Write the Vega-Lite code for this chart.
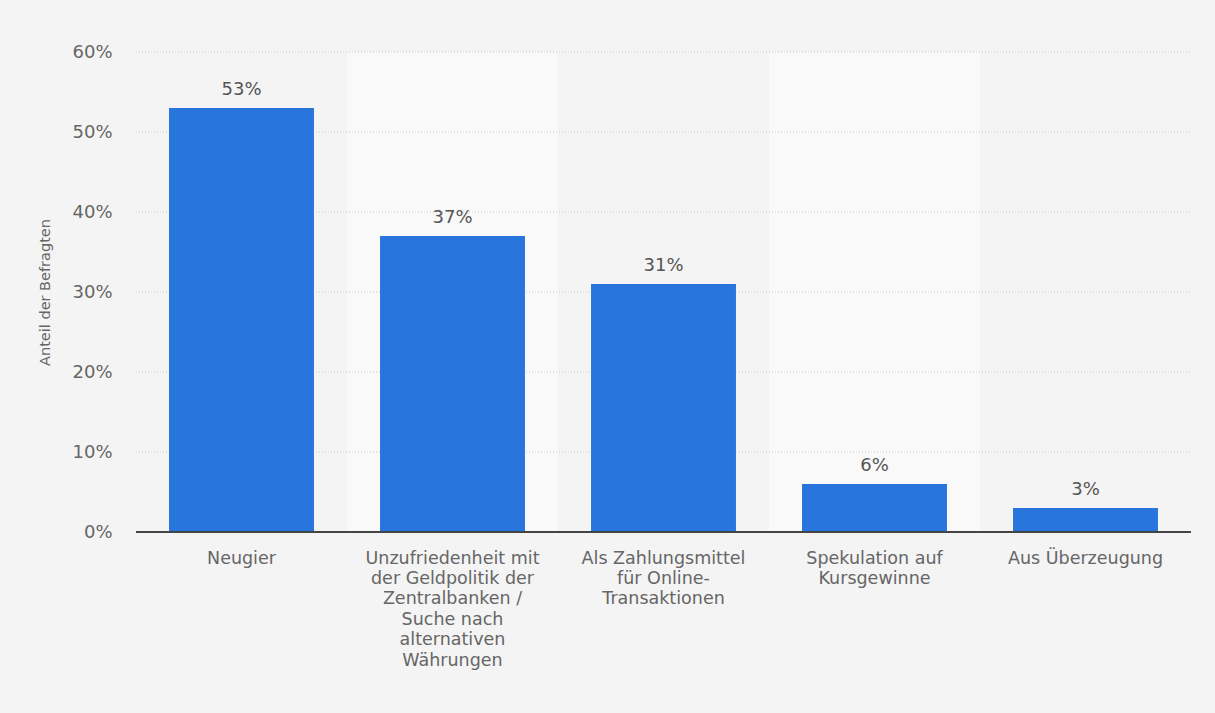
{
  "$schema": "https://vega.github.io/schema/vega-lite/v6.json",
  "width": 1055,
  "height": 480,
  "autosize": {"type": "none"},
  "padding": {"left": 136, "top": 52, "right": 24, "bottom": 181},
  "background": "#f4f4f4",
  "config": {
    "view": {"stroke": null},
    "font": "DejaVu Sans"
  },
  "datasets": {
    "main": [
      {"grund": "Neugier", "anteil": 53, "band": "dark"},
      {"grund": "Unzufriedenheit mit\nder Geldpolitik der\nZentralbanken /\nSuche nach\nalternativen\nWährungen", "anteil": 37, "band": "light"},
      {"grund": "Als Zahlungsmittel\nfür Online-\nTransaktionen", "anteil": 31, "band": "dark"},
      {"grund": "Spekulation auf\nKursgewinne", "anteil": 6, "band": "light"},
      {"grund": "Aus Überzeugung", "anteil": 3, "band": "dark"}
    ],
    "grid": [{"v": 10}, {"v": 20}, {"v": 30}, {"v": 40}, {"v": 50}, {"v": 60}]
  },
  "data": {"name": "main"},
  "encoding": {
    "x": {
      "field": "grund",
      "type": "nominal",
      "sort": null,
      "scale": {"paddingInner": 0, "paddingOuter": 0},
      "axis": {
        "title": null,
        "labelAngle": 0,
        "labelExpr": "split(datum.label, '\\n')",
        "labelFontSize": 17.5,
        "labelColor": "#666666",
        "labelLineHeight": 20.4,
        "labelPadding": 17,
        "labelBaseline": "top",
        "ticks": false,
        "domain": false,
        "grid": false,
        "labelLimit": 300
      }
    }
  },
  "layer": [
    {
      "mark": {"type": "bar", "width": {"band": 1}, "color": "#f9f9f9"},
      "encoding": {
        "y": {"datum": 60, "type": "quantitative", "scale": {"domain": [0, 60]}},
        "y2": {"datum": 0},
        "opacity": {
          "condition": {"test": "datum.band === 'light'", "value": 1},
          "value": 0
        }
      }
    },
    {
      "data": {"name": "grid"},
      "mark": {"type": "rule", "color": "#c8c8c8", "strokeDash": [1, 2], "strokeWidth": 1},
      "encoding": {
        "y": {"field": "v", "type": "quantitative"},
        "x": {"value": 0},
        "x2": {"value": 1055}
      }
    },
    {
      "mark": {"type": "bar", "width": {"band": 0.687}, "color": "#2876dd"},
      "encoding": {
        "y": {
          "field": "anteil",
          "type": "quantitative",
          "scale": {"domain": [0, 60]},
          "axis": {
            "title": "Anteil der Befragten",
            "titleFontSize": 14.5,
            "titleFontWeight": "normal",
            "titleColor": "#666666",
            "titlePadding": 19,
            "values": [0, 10, 20, 30, 40, 50, 60],
            "labelExpr": "datum.value + '%'",
            "labelFontSize": 18,
            "labelColor": "#666666",
            "labelPadding": 24,
            "ticks": false,
            "domain": false,
            "grid": false
          }
        }
      }
    },
    {
      "mark": {"type": "rule", "color": "#444444", "strokeWidth": 2},
      "encoding": {
        "y": {"datum": 0, "type": "quantitative"},
        "x": {"value": 0},
        "x2": {"value": 1055}
      }
    },
    {
      "mark": {"type": "text", "baseline": "bottom", "dy": -9, "fontSize": 18, "color": "#555555", "text": {"expr": "datum.anteil + '%'"}},
      "encoding": {
        "y": {"field": "anteil", "type": "quantitative"}
      }
    }
  ]
}
